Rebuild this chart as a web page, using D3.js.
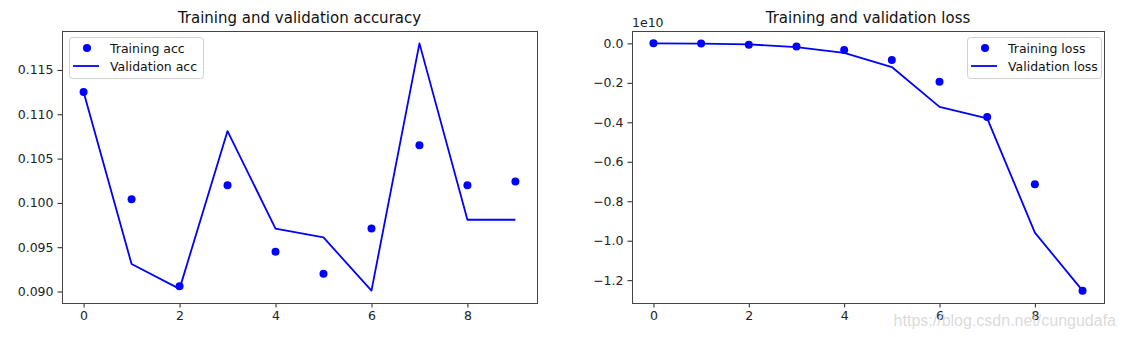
<!DOCTYPE html>
<html>
<head>
<meta charset="utf-8"/>
<title>Training and validation</title>
<script src="https://d3js.org/d3.v7.min.js"></script>
<style>
  body { margin: 0; background: #fff; }
  svg { display: block; font-family: "DejaVu Sans", sans-serif; }
</style>
</head>
<body>
<svg id="chart" width="1125" height="337"></svg>
<script>

var epochs = [0, 1, 2, 3, 4, 5, 6, 7, 8, 9];

var trainAcc = [0.1125, 0.1004, 0.0906, 0.1020, 0.0945, 0.0920, 0.0971, 0.1065, 0.1020, 0.1024];
var valAcc   = [0.1125, 0.0931, 0.0903, 0.1081, 0.0971, 0.0961, 0.0901, 0.1180, 0.0981, 0.0981];

// loss values in units of 1e10
var trainLoss = [0.0, -0.001, -0.007, -0.016, -0.033, -0.084, -0.194, -0.373, -0.714, -1.253];
var valLoss   = [0.0, -0.001, -0.005, -0.019, -0.048, -0.120, -0.322, -0.380, -0.959, -1.253];

var xTicks = [0, 2, 4, 6, 8];
var accTicks = [0.090, 0.095, 0.100, 0.105, 0.110, 0.115];
var lossTicks = [0.0, -0.2, -0.4, -0.6, -0.8, -1.0, -1.2];

var svg = d3.select("#chart");
var blue = "#0000ff";

function margin5(vals) {
  var e = d3.extent(vals), pad = (e[1] - e[0]) * 0.05;
  return [e[0] - pad, e[1] + pad];
}

function panel(opts) {
  var x = d3.scaleLinear().domain(margin5(epochs)).range([opts.left, opts.right]);
  var y = d3.scaleLinear().domain(margin5(opts.train.concat(opts.val))).range([303, 31]);

  var g = svg.append("g");

  g.append("g")
      .attr("transform", "translate(0,303)")
      .call(d3.axisBottom(x).tickValues(xTicks).tickSize(4.5).tickPadding(4).tickFormat(d3.format("d")))
      .call(styleAxis);

  g.append("g")
      .attr("transform", "translate(" + opts.left + ",0)")
      .call(d3.axisLeft(y).tickValues(opts.ticks).tickSize(4.5).tickPadding(4).tickFormat(opts.fmt))
      .call(styleAxis);

  // frame
  g.append("rect")
      .attr("x", opts.left + 0.5).attr("y", 31.5)
      .attr("width", opts.right - opts.left).attr("height", 272)
      .attr("fill", "none").attr("stroke", "#444").attr("stroke-width", 1);

  var line = d3.line()
      .x(function(d, i) { return x(epochs[i]); })
      .y(function(d) { return y(d); });

  g.append("path")
      .datum(opts.val)
      .attr("fill", "none")
      .attr("stroke", blue)
      .attr("stroke-width", 1.8)
      .attr("stroke-linejoin", "round")
      .attr("d", line);

  g.selectAll("circle.pt")
    .data(opts.train)
    .enter().append("circle")
      .attr("class", "pt")
      .attr("cx", function(d, i) { return x(epochs[i]); })
      .attr("cy", function(d) { return y(d); })
      .attr("r", 4)
      .attr("fill", blue);

  g.append("text")
      .attr("x", (opts.left + opts.right) / 2)
      .attr("y", 23)
      .attr("text-anchor", "middle")
      .attr("font-size", 15)
      .attr("fill", "#111")
      .text(opts.title);

  // legend
  var lg = g.append("g").attr("transform", "translate(" + opts.legX + ",37)");
  lg.append("rect")
      .attr("x", 0.5).attr("y", 0.5)
      .attr("width", opts.legW).attr("height", 41).attr("rx", 3)
      .attr("fill", "#fff").attr("fill-opacity", 0.8)
      .attr("stroke", "#d0d0d0");
  lg.append("circle").attr("cx", 18).attr("cy", 11).attr("r", 4).attr("fill", blue);
  lg.append("line").attr("x1", 4).attr("x2", 30).attr("y1", 29).attr("y2", 29)
      .attr("stroke", blue).attr("stroke-width", 1.8);
  lg.append("text").attr("x", 41).attr("y", 15.5).attr("font-size", 12.5).attr("fill", "#111").text(opts.names[0]);
  lg.append("text").attr("x", 41).attr("y", 33.5).attr("font-size", 12.5).attr("fill", "#111").text(opts.names[1]);

  return g;
}

function styleAxis(sel) {
  sel.select(".domain").remove();
  sel.selectAll(".tick line").attr("stroke", "#222");
  sel.selectAll(".tick text")
      .attr("font-size", 12.5)
      .attr("font-family", "DejaVu Sans, sans-serif")
      .attr("fill", "#222");
}

panel({
  left: 62, right: 537,
  train: trainAcc, val: valAcc,
  ticks: accTicks, fmt: d3.format(".3f"),
  title: "Training and validation accuracy",
  legX: 69, legW: 134,
  names: ["Training acc", "Validation acc"]
});

var lossPanel = panel({
  left: 632, right: 1104,
  train: trainLoss, val: valLoss,
  ticks: lossTicks, fmt: function(d) { return d3.format(".1f")(d).replace("-", "\u2212"); },
  title: "Training and validation loss",
  legX: 967, legW: 134,
  names: ["Training loss", "Validation loss"]
});

lossPanel.append("text")
    .attr("x", 632).attr("y", 27)
    .attr("font-size", 12.5)
    .attr("fill", "#222")
    .text("1e10");

// watermark
svg.append("text")
    .attr("x", 1116).attr("y", 326)
    .attr("text-anchor", "end")
    .attr("font-family", "Liberation Sans, Arial, sans-serif")
    .attr("font-size", 16)
    .attr("fill", "#d6d6d6")
    .attr("fill-opacity", 0.9)
    .text("https://blog.csdn.net/cungudafa");

</script>
</body>
</html>
